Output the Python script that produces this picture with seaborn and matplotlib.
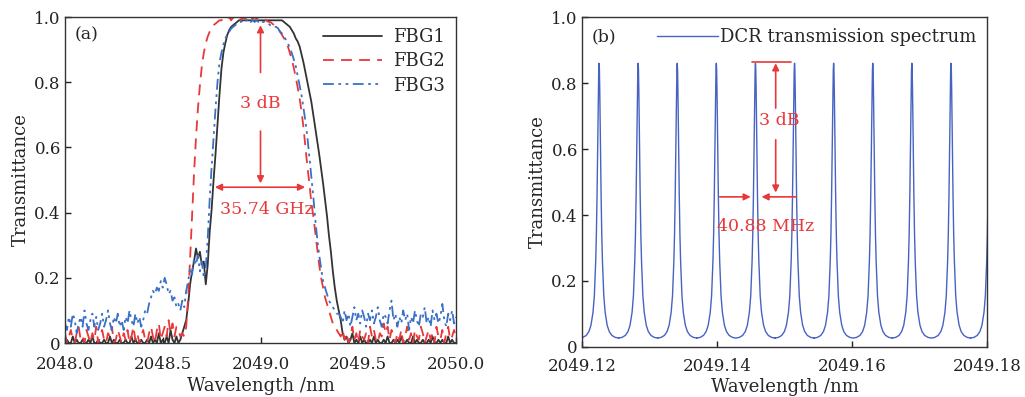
import numpy as np
import matplotlib
matplotlib.use("Agg")
import matplotlib.pyplot as plt
import seaborn as sns

# ---- (a) FBG transmission spectra (step 0.01 nm) ----
wavelength_a = np.round(np.arange(2048.0, 2050.0001, 0.01), 2)

fbg1 = [0.00, 0.01, 0.00, 0.00, 0.02, 0.00, 0.01, 0.00, 0.00, 0.01,
        0.00, 0.00, 0.01, 0.00, 0.02, 0.00, 0.00, 0.01, 0.00, 0.00,
        0.01, 0.00, 0.00, 0.02, 0.00, 0.01, 0.00, 0.00, 0.01, 0.00,
        0.00, 0.01, 0.00, 0.00, 0.02, 0.00, 0.01, 0.00, 0.00, 0.01,
        0.00, 0.00, 0.01, 0.00, 0.02, 0.00, 0.01, 0.00, 0.03, 0.00,
        0.01, 0.00, 0.02, 0.00, 0.04, 0.01, 0.00, 0.02,
        0.00, 0.01, 0.03, 0.05, 0.07, 0.12, 0.18, 0.22, 0.25, 0.29,
        0.26, 0.28, 0.24, 0.25, 0.18, 0.24, 0.34, 0.41, 0.50, 0.58,
        0.67, 0.76, 0.84, 0.89, 0.92, 0.945, 0.96, 0.97, 0.975, 0.98,
        0.985, 0.99, 0.99, 0.99, 0.99, 0.99, 0.99, 0.99, 0.99, 0.99,
        0.99, 0.99, 0.99, 0.99, 0.99, 0.99, 0.99, 0.99, 0.99, 0.99,
        0.99, 0.99, 0.99, 0.99,
        0.985, 0.98, 0.975, 0.97, 0.96, 0.95, 0.935, 0.925, 0.91, 0.885,
        0.86, 0.83, 0.80, 0.77, 0.74, 0.70, 0.66, 0.62, 0.58, 0.535,
        0.49, 0.44, 0.39, 0.33, 0.28, 0.22, 0.17, 0.13, 0.10, 0.07,
        0.03, 0.01,
        0.02, 0.00, 0.01, 0.03, 0.00, 0.01, 0.00, 0.02, 0.00, 0.01,
        0.00, 0.00, 0.01, 0.00, 0.02, 0.00, 0.01, 0.00, 0.00, 0.01,
        0.00, 0.02, 0.00, 0.00, 0.01, 0.00, 0.01, 0.00, 0.02, 0.00,
        0.00, 0.01, 0.00, 0.00, 0.02, 0.00, 0.01, 0.00, 0.00, 0.01,
        0.00, 0.00, 0.01, 0.00, 0.02, 0.00, 0.00, 0.01, 0.00, 0.01,
        0.00, 0.00, 0.02, 0.00, 0.01, 0.00, 0.00]

fbg2 = [0.03, 0.00, 0.02, 0.04, 0.01, 0.00, 0.03, 0.05, 0.01, 0.02,
        0.00, 0.04, 0.02, 0.00, 0.03, 0.01, 0.05, 0.00, 0.02, 0.04,
        0.01, 0.00, 0.03, 0.02, 0.05, 0.00, 0.01, 0.04, 0.02, 0.00,
        0.03, 0.01, 0.04, 0.00, 0.02, 0.05, 0.01, 0.03, 0.00, 0.02,
        0.04, 0.01, 0.00, 0.03, 0.05, 0.02, 0.00, 0.04, 0.06, 0.01,
        0.03, 0.05, 0.02, 0.07, 0.03, 0.06, 0.02, 0.05, 0.04, 0.02,
        0.03, 0.02, 0.05, 0.14, 0.26, 0.39, 0.52, 0.63, 0.72, 0.79,
        0.85, 0.89, 0.92, 0.94, 0.955, 0.965, 0.975, 0.98, 0.985, 0.99,
        0.99, 0.995,
        1.00, 0.995, 1.00, 0.99, 1.00, 0.995, 1.00, 1.00, 0.99, 1.00,
        0.995, 1.00, 0.99, 1.00, 0.995, 1.00, 0.995, 1.00, 0.995,
        0.995, 0.99, 0.99, 0.985, 0.985, 0.98, 0.975, 0.97, 0.965, 0.955,
        0.945, 0.935, 0.925, 0.91, 0.89, 0.87, 0.845, 0.815, 0.785, 0.75,
        0.71, 0.66, 0.60, 0.54, 0.49, 0.43, 0.39, 0.34, 0.29, 0.24,
        0.20, 0.17, 0.14, 0.12, 0.10, 0.08, 0.06, 0.05, 0.04, 0.03,
        0.02, 0.04, 0.01, 0.03, 0.00, 0.02, 0.05, 0.01, 0.03, 0.00,
        0.04, 0.02, 0.01, 0.03, 0.00, 0.05, 0.02, 0.04, 0.01, 0.00,
        0.03, 0.02, 0.06, 0.03, 0.05, 0.01, 0.04, 0.02, 0.00, 0.03,
        0.01, 0.04, 0.00, 0.02, 0.05, 0.01, 0.03, 0.00, 0.04, 0.02,
        0.01, 0.05, 0.03, 0.00, 0.02, 0.04, 0.01, 0.03, 0.00, 0.05,
        0.02, 0.01, 0.04, 0.00, 0.03, 0.05, 0.01, 0.02, 0.04, 0.01]

fbg3 = [0.06, 0.04, 0.08, 0.05, 0.09, 0.07, 0.03, 0.06, 0.08, 0.05,
        0.10, 0.06, 0.04, 0.07, 0.09, 0.05, 0.08, 0.04, 0.06, 0.09,
        0.05, 0.07, 0.10, 0.06, 0.04, 0.08, 0.06, 0.09, 0.05, 0.07,
        0.04, 0.08, 0.06, 0.10, 0.07, 0.05, 0.09, 0.06, 0.08, 0.05,
        0.07, 0.10, 0.09, 0.12, 0.14, 0.16, 0.15, 0.17, 0.16, 0.19,
        0.17, 0.20, 0.18, 0.15, 0.16, 0.13, 0.14, 0.11, 0.12, 0.10,
        0.13, 0.11, 0.16, 0.19, 0.23, 0.21, 0.26, 0.24, 0.27, 0.22,
        0.25, 0.20, 0.23, 0.32, 0.44, 0.54, 0.63, 0.72, 0.80, 0.86,
        0.89, 0.915, 0.935, 0.945, 0.955, 0.965, 0.97, 0.975, 0.98, 0.985,
        0.985, 0.99, 0.985, 0.99, 0.995, 0.985, 0.99, 0.985, 0.99, 0.985,
        0.99, 0.985, 0.985, 0.98, 0.98, 0.975, 0.975, 0.97, 0.97, 0.965,
        0.955, 0.95, 0.94, 0.93, 0.92, 0.905, 0.89, 0.87, 0.85, 0.82,
        0.79, 0.76, 0.72, 0.68, 0.63, 0.57, 0.51, 0.45, 0.38, 0.32,
        0.27, 0.23, 0.19, 0.17, 0.15, 0.13, 0.12, 0.11, 0.10, 0.09,
        0.09, 0.08, 0.06, 0.10, 0.07, 0.09, 0.05, 0.08, 0.11, 0.07,
        0.09, 0.06, 0.10, 0.08, 0.05, 0.09, 0.07, 0.10, 0.06, 0.08,
        0.11, 0.07, 0.05, 0.09, 0.08, 0.06, 0.10, 0.13, 0.07, 0.09,
        0.05, 0.08, 0.06, 0.10, 0.07, 0.09, 0.04, 0.08, 0.06, 0.10,
        0.07, 0.05, 0.09, 0.08, 0.11, 0.06, 0.08, 0.05, 0.10, 0.07,
        0.09, 0.06, 0.08, 0.12, 0.07, 0.05, 0.09, 0.07, 0.10, 0.06,
        0.08]

# ---- (b) DCR transmission spectrum ----
# peak centres read off the axis, and one peak's profile (offset from centre in nm)
dcr_peak_centers = [2049.12253, 2049.12832, 2049.13411, 2049.13990, 2049.14570,
                    2049.15149, 2049.15728, 2049.16308, 2049.16887, 2049.17467,
                    2049.18046]
profile_offsets = [0.0, 0.00005, 0.0001, 0.00015, 0.0002, 0.0003, 0.0004, 0.0005,
                   0.0007, 0.0009, 0.0012, 0.0015, 0.0019, 0.0024, 0.0029]
profile_values = [0.86, 0.84, 0.78, 0.70, 0.62, 0.46, 0.34, 0.26,
                  0.155, 0.105, 0.066, 0.047, 0.035, 0.029, 0.027]

half_offsets = np.array(profile_offsets)
half_values = np.array(profile_values)
one_offsets = np.concatenate([-half_offsets[::-1], half_offsets[1:]])
one_values = np.concatenate([half_values[::-1], half_values[1:]])
wavelength_b = np.concatenate([c + one_offsets for c in dcr_peak_centers])
dcr_values = np.tile(one_values, len(dcr_peak_centers))

RED = "#e8383a"
BLUE = "#3a70c8"
DCR_BLUE = "#4862c2"
DARK = "#333333"

sns.set_style("ticks")
plt.rcParams["font.family"] = ["DejaVu Serif"]
plt.rcParams["mathtext.fontset"] = "dejavuserif"

fig = plt.figure(figsize=(10.25, 3.97), dpi=100)
ax1 = fig.add_axes([0.0634, 0.136, 0.3815, 0.821])
ax2 = fig.add_axes([0.5678, 0.126, 0.3951, 0.831])

# (a)
sns.lineplot(x=wavelength_a, y=fbg1, ax=ax1, color=DARK, linewidth=1.3, label="FBG1")
sns.lineplot(x=wavelength_a, y=fbg2, ax=ax1, color=RED, linewidth=1.3, label="FBG2")
sns.lineplot(x=wavelength_a, y=fbg3, ax=ax1, color=BLUE, linewidth=1.3, label="FBG3")
ax1.lines[1].set_linestyle((0, (6, 4)))
ax1.lines[2].set_linestyle((0, (6, 2.5, 1.5, 2.5, 1.5, 2.5)))
ax1.set_xlim(2048.0, 2050.0)
ax1.set_ylim(0, 1.0)
ax1.set_xticks([2048.0, 2048.5, 2049.0, 2049.5, 2050.0])
ax1.set_xticklabels(["2048.0", "2048.5", "2049.0", "2049.5", "2050.0"])
ax1.set_yticks([0, 0.2, 0.4, 0.6, 0.8, 1.0])
ax1.set_yticklabels(["0", "0.2", "0.4", "0.6", "0.8", "1.0"])
ax1.set_xlabel("Wavelength /nm", fontsize=13, labelpad=3)
ax1.set_ylabel("Transmittance", fontsize=13, labelpad=3)
ax1.text(0.025, 0.97, "(a)", transform=ax1.transAxes, fontsize=12.5, va="top")
ax1.legend(loc="upper right", frameon=False, fontsize=13, handlelength=3.3,
           handletextpad=0.6, labelspacing=0.35, borderaxespad=0.2)

arrow = dict(arrowstyle="-|>", color=RED, lw=1.2, mutation_scale=10, shrinkA=0, shrinkB=0)
ax1.annotate("", xy=(2049.0, 0.975), xytext=(2049.0, 0.83), arrowprops=arrow)
ax1.annotate("", xy=(2049.0, 0.49), xytext=(2049.0, 0.65), arrowprops=arrow)
ax1.annotate("", xy=(2048.767, 0.478), xytext=(2049.228, 0.478),
             arrowprops=dict(arrowstyle="<|-|>", color=RED, lw=1.2, mutation_scale=10,
                             shrinkA=0, shrinkB=0))
ax1.text(2049.0, 0.735, "3 dB", color=RED, fontsize=12.5, ha="center", va="center")
ax1.text(2049.03, 0.41, "35.74 GHz", color=RED, fontsize=12.5, ha="center", va="center")

# (b)
sns.lineplot(x=wavelength_b, y=dcr_values, ax=ax2, color=DCR_BLUE, linewidth=1.0,
             sort=False, estimator=None, label="DCR transmission spectrum")
ax2.set_xlim(2049.12, 2049.18)
ax2.set_ylim(0, 1.0)
ax2.set_xticks([2049.12, 2049.14, 2049.16, 2049.18])
ax2.set_xticklabels(["2049.12", "2049.14", "2049.16", "2049.18"])
ax2.set_yticks([0, 0.2, 0.4, 0.6, 0.8, 1.0])
ax2.set_yticklabels(["0", "0.2", "0.4", "0.6", "0.8", "1.0"])
ax2.set_xlabel("Wavelength /nm", fontsize=13, labelpad=2)
ax2.set_ylabel("Transmittance", fontsize=13, labelpad=3)
ax2.text(0.025, 0.965, "(b)", transform=ax2.transAxes, fontsize=12.5, va="top")
ax2.legend(loc="upper right", frameon=False, fontsize=13, handlelength=3.4,
           handletextpad=0.1, borderaxespad=0.2)

ax2.plot([2049.1452, 2049.1509], [0.863, 0.863], color=RED, lw=1.2)
ax2.annotate("", xy=(2049.1487, 0.86), xytext=(2049.1487, 0.724), arrowprops=arrow)
ax2.annotate("", xy=(2049.1487, 0.468), xytext=(2049.1487, 0.628), arrowprops=arrow)
ax2.annotate("", xy=(2049.1450, 0.455), xytext=(2049.1404, 0.455), arrowprops=arrow)
ax2.annotate("", xy=(2049.1466, 0.455), xytext=(2049.1517, 0.455), arrowprops=arrow)
ax2.text(2049.1492, 0.688, "3 dB", color=RED, fontsize=12.5, ha="center", va="center")
ax2.text(2049.1472, 0.364, "40.88 MHz", color=RED, fontsize=12.5, ha="center", va="center")

for ax in (ax1, ax2):
    ax.tick_params(direction="in", length=4, width=1, labelsize=12, pad=3,
                   colors="#222222")
    for sp in ax.spines.values():
        sp.set_visible(True)
        sp.set_color("#333333")
        sp.set_linewidth(1.0)
ax1.tick_params(axis="x", pad=9)
ax2.tick_params(axis="x", pad=8)

fig.savefig("out.png", dpi=100)
